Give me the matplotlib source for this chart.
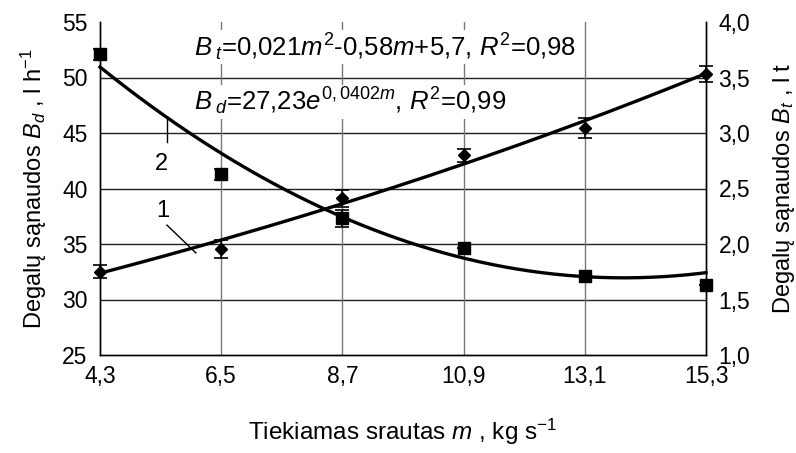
import numpy as np
import matplotlib
matplotlib.use('Agg')
import matplotlib.pyplot as plt

plt.rcParams['font.family'] = ['Liberation Sans', 'DejaVu Sans']
plt.rcParams['mathtext.fontset'] = 'custom'
plt.rcParams['mathtext.rm'] = 'Liberation Sans'
plt.rcParams['mathtext.it'] = 'Liberation Sans:italic'

# feed rate m, kg/s
m = [4.3, 6.5, 8.7, 10.9, 13.1, 15.3]
m_labels = ['4,3', '6,5', '8,7', '10,9', '13,1', '15,3']

# fuel consumption Bd, l/h (diamonds, left axis)
bd = [32.5, 34.55, 39.1, 43.0, 45.45, 50.3]
bd_err = [0.6, 0.8, 0.8, 0.6, 0.9, 0.7]

# fuel consumption Bt, l/t (squares, right axis)
bt = [3.71, 2.63, 2.23, 1.96, 1.71, 1.63]
bt_err = [0.05, 0.05, 0.08, 0.0, 0.0, 0.0]

# trend line coefficients as printed on the chart
bd_a, bd_b = 27.23, 0.0402
bt_c2, bt_c1, bt_c0 = 0.021, -0.58, 5.7

left_ticks = [25, 30, 35, 40, 45, 50, 55]
right_ticks = [1.0, 1.5, 2.0, 2.5, 3.0, 3.5, 4.0]
right_labels = ['1,0', '1,5', '2,0', '2,5', '3,0', '3,5', '4,0']

fig = plt.figure(figsize=(7.96, 4.53), dpi=100)
ax = fig.add_axes([100/796, 1 - 355/453, 606/796, 333/453])
ax2 = ax.twinx()

ax.set_xlim(4.3, 15.3)
ax.set_ylim(25, 55)
ax2.set_ylim(1, 4)

ax.set_xticks(m)
ax.set_xticklabels(m_labels, fontsize=16.5)
ax.set_yticks(left_ticks)
ax.set_yticklabels([str(t) for t in left_ticks], fontsize=16.5)
ax2.set_yticks(right_ticks)
ax2.set_yticklabels(right_labels, fontsize=16.5)
ax.tick_params(axis='x', length=0, pad=7)
ax.tick_params(axis='y', length=0, pad=9)
ax2.tick_params(axis='y', length=0, pad=9)

for y in left_ticks[1:-1]:
    ax.axhline(y, color='#222222', lw=1.0, zorder=1)
for x in m[1:-1]:
    ax.axvline(x, color='#777777', lw=1.0, zorder=1)

for a in (ax, ax2):
    a.spines['top'].set_visible(False)
    for s in ('left', 'right', 'bottom'):
        a.spines[s].set_color('black')
        a.spines[s].set_linewidth(1.0)

mm = np.linspace(4.3, 15.3, 200)
ax.plot(mm, bd_a * np.exp(bd_b * mm), color='black', lw=2.4, zorder=4, clip_on=False)
ax2.plot(mm, bt_c2 * mm**2 + bt_c1 * mm + bt_c0, color='black', lw=2.4, zorder=4, clip_on=False)

ax.errorbar(m, bd, yerr=bd_err, fmt='D', color='black', ms=6, capsize=5,
            elinewidth=1.2, capthick=1.2, zorder=5, clip_on=False)
ax2.errorbar(m, bt, yerr=bt_err, fmt='s', color='black', ms=8, capsize=5,
             elinewidth=1.2, capthick=1.2, zorder=5, clip_on=False)

box = dict(facecolor='white', edgecolor='none', pad=1)
ax.text(6.0, 51.9, '$B_{\\;t}$=0,021$m^2$-0,58$m$+5,7, $R^2$=0,98',
        fontsize=18.5, va='baseline', ha='left', bbox=box, zorder=3)
ax.text(6.0, 47.0, '$B_{\\;d}$=27,23$e^{0,0402m}$, $R^2$=0,99',
        fontsize=18.5, va='baseline', ha='left', bbox=box, zorder=3)

# curve labels
ax.text(5.41, 42.2, '2', fontsize=17, ha='center', va='center')
ax.plot([5.516, 5.516], [44.19, 46.44], color='black', lw=1.0)
ax.text(5.44, 38.0, '1', fontsize=17, ha='center', va='center')
ax.plot([5.516, 6.04], [36.7, 34.2], color='black', lw=1.0)

ax.set_ylabel('Degalų sąnaudos $B_d$ , l h$^{-1}$', fontsize=17, labelpad=9)
ax2.set_ylabel('Degalų sąnaudos $B_t$ , l t', fontsize=17, labelpad=15)
ax.set_xlabel('Tiekiamas srautas $m$ , kg s$^{-1}$', fontsize=17.5, labelpad=21)

fig.savefig('out.png', dpi=100)
